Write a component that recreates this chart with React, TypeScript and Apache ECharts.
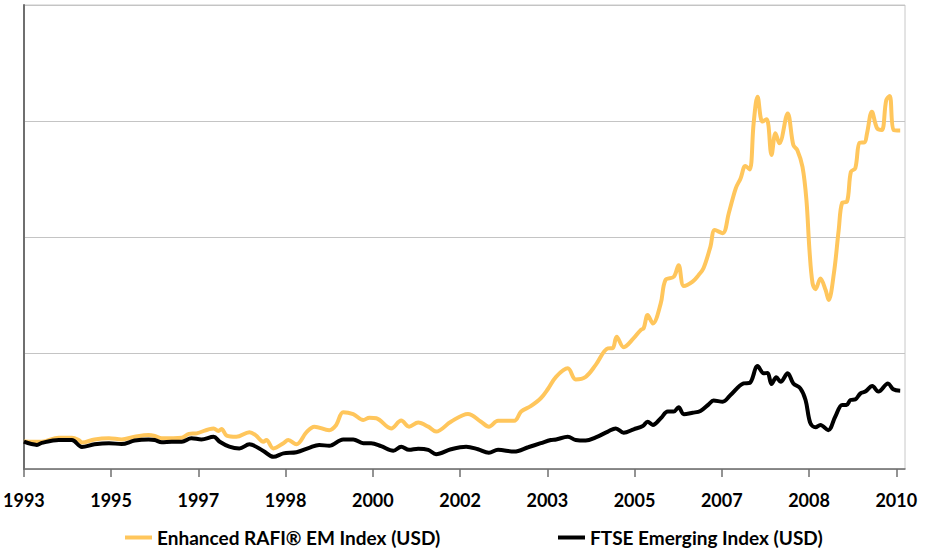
import React, { useEffect, useRef } from "react";
import * as echarts from "echarts";

// Time position of each reading, in months since the start of 1993
const rafiMonths = [
  0, 4.1, 8.0, 11.0, 12.6, 13.3, 16.2, 19.5, 22.4, 25.4, 28.6, 30.0, 31.6, 36.2, 37.8, 39.6,
  43.5, 44.6, 45.3, 46.5, 48.7, 51.7, 53.1, 54.9, 55.6, 57.2, 59.5, 60.6, 62.5, 64.8, 66.6,
  70.0, 71.6, 73.2, 75.5, 77.8, 79.2, 80.8, 84.2, 86.5, 88.3, 90.4, 92.7, 94.5, 97.9, 101.8,
  104.8, 106.6, 108.7, 112.4, 114.0, 116.2, 118.5, 120.1, 122.0, 124.7, 126.5, 128.8, 131.1,
  133.9, 135.0, 135.9, 137.5, 139.8, 141.4, 142.1, 143.0, 144.2, 146.0, 147.1, 149.0, 150.1,
  151.3, 153.3, 154.7, 155.8, 157.4, 158.4, 160.2, 161.6, 163.2, 164.3, 165.4, 166.4, 167.3,
  168.2, 169.3, 170.3, 171.4, 172.3, 173.2, 175.1, 176.4, 177.3, 178.5, 179.4, 180.1, 180.8,
  181.5, 182.6, 183.8, 184.5, 185.7, 186.8, 187.6, 188.7, 189.6, 190.6, 191.6, 192.7, 193.3,
  194.4, 195.6, 196.7, 197.7, 198.5, 199.4, 200.9,
];
const rafiValues = [
  95, 94, 108, 108, 100, 91, 102, 106, 102, 111, 117, 114, 106, 108, 121, 123,
  140, 131, 138, 115, 111, 127, 117, 94, 100, 71, 89, 100, 85, 127, 146,
  134, 152, 196, 189, 169, 177, 175, 140, 167, 146, 160, 146, 129, 163, 190,
  163, 146, 166, 166, 198, 217, 244, 275, 318, 347, 309, 318, 359,
  416, 417, 456, 420, 451, 479, 486, 531, 502, 571, 652, 663, 703,
  631, 646, 669, 692, 767, 824, 813, 882, 968, 1002, 1045, 1033, 1192,
  1284, 1198, 1206, 1083, 1158, 1123, 1226, 1117, 1100, 1042, 928, 755, 641,
  620, 657, 617, 583, 675, 824, 918, 922, 1025, 1037, 1125, 1126, 1158,
  1232, 1175, 1169, 1272, 1286, 1169, 1167,
];

const ftseMonths = [
  0, 3.0, 4.1, 8.0, 11.0, 13.3, 16.2, 19.5, 22.4, 25.4, 28.6, 30.0, 31.6, 33.9, 36.2, 38.4,
  40.7, 43.5, 44.9, 47.1, 49.4, 51.7, 54.9, 57.2, 59.5, 62.5, 65.4, 67.7, 70.0, 73.2, 75.5,
  77.8, 79.6, 81.9, 84.7, 86.5, 88.3, 90.4, 92.7, 94.5, 97.9, 101.4, 104.1, 106.6, 108.7,
  112.4, 115.6, 118.5, 120.8, 122.0, 124.7, 126.5, 128.8, 131.1, 133.9, 135.7, 137.5, 139.8,
  141.9, 143.0, 144.2, 146.0, 147.6, 149.0, 150.1, 151.3, 153.3, 155.1, 157.0, 158.1, 160.2,
  162.0, 165.0, 166.4, 168.2, 169.6, 170.5, 171.4, 172.5, 173.5, 175.1, 176.4, 178.0, 179.2,
  180.3, 181.5, 182.6, 184.4, 186.0, 187.6, 188.6, 189.5, 190.6, 191.8, 192.9, 194.5, 195.9,
  198.1, 199.3, 200.9,
];
const ftseValues = [
  94, 83, 90, 100, 100, 76, 85, 89, 86, 98, 102, 100, 92, 94, 94, 106,
  102, 111, 94, 77, 71, 85, 62, 42, 54, 58, 73, 83, 80, 102, 102,
  89, 89, 79, 63, 77, 66, 70, 66, 51, 68, 77, 68, 56, 66,
  60, 75, 89, 100, 102, 111, 100, 98, 109, 129, 140, 125, 137,
  148, 163, 152, 175, 198, 198, 213, 189, 194, 200, 223, 236, 232,
  255, 295, 297, 355, 330, 331, 293, 316, 301, 330, 295, 278, 238,
  158, 144, 152, 134, 180, 221, 221, 238, 240, 261, 267, 286, 267,
  295, 275, 270,
];

const seriesNames = ["Enhanced RAFI® EM Index (USD)", "FTSE Emerging Index (USD)"];
const tickLabels = ["1993", "1995", "1997", "1998", "2000", "2002", "2003", "2005", "2007", "2008", "2010"];
const tickStep = 20;
const xMax = 202;
const yMax = 1600;
const yStep = 400;

const FONT = 'Lato, "Open Sans", sans-serif';

export default function App() {
  const ref = useRef<HTMLDivElement>(null);
  useEffect(() => {
    if (!ref.current) return;
    const chart = echarts.init(ref.current, undefined, { renderer: "svg" });
    const tickValues = tickLabels.map((_, i) => i * tickStep);
    const legendText = { fontFamily: FONT, fontWeight: "bold", fontSize: 19, color: "#000" };
    chart.setOption({
      animation: false,
      backgroundColor: "#ffffff",
      grid: {
        left: 22,
        right: 32,
        top: 5,
        bottom: 79,
        show: true,
        borderColor: "#c8c8c8",
        borderWidth: 1,
      },
      legend: [
        {
          data: [seriesNames[0]],
          left: 120,
          top: 523,
          icon: "rect",
          itemWidth: 27,
          itemHeight: 4,
          itemGap: 0,
          textStyle: legendText,
        },
        {
          data: [seriesNames[1]],
          left: 553,
          top: 523,
          icon: "rect",
          itemWidth: 27,
          itemHeight: 4,
          itemGap: 0,
          textStyle: legendText,
        },
      ],
      xAxis: {
        type: "value",
        min: 0,
        max: xMax,
        axisLine: { show: true, lineStyle: { color: "#6f6f6f", width: 1.5 } },
        axisTick: {
          show: true,
          length: 8,
          customValues: tickValues,
          lineStyle: { color: "#6f6f6f", width: 1.5 },
        },
        axisLabel: {
          customValues: tickValues,
          margin: 22,
          fontFamily: FONT,
          fontWeight: "bold",
          fontSize: 18,
          color: "#000",
          formatter: (v: number) => tickLabels[Math.round(v / tickStep)] ?? "",
        },
        splitLine: { show: false },
      },
      yAxis: {
        type: "value",
        min: 0,
        max: yMax,
        interval: yStep,
        axisLine: { show: true, lineStyle: { color: "#6f6f6f", width: 2 } },
        axisTick: { show: false },
        axisLabel: { show: false },
        splitLine: { show: true, lineStyle: { color: "#c4c4c4", width: 1 } },
      },
      series: [
        {
          name: seriesNames[0],
          type: "line",
          data: rafiMonths.map((m, i) => [m, rafiValues[i]]),
          showSymbol: false,
          smooth: 0.35,
          color: "#FFC65C",
          lineStyle: { color: "#FFC65C", width: 4 },
        },
        {
          name: seriesNames[1],
          type: "line",
          data: ftseMonths.map((m, i) => [m, ftseValues[i]]),
          showSymbol: false,
          smooth: 0.35,
          color: "#000000",
          lineStyle: { color: "#000000", width: 4 },
        },
      ],
    });
    return () => chart.dispose();
  }, []);
  return (
    <div
      ref={ref}
      style={{ position: "fixed", left: 0, top: 0, width: 937, height: 548, background: "#fff" }}
    />
  );
}
